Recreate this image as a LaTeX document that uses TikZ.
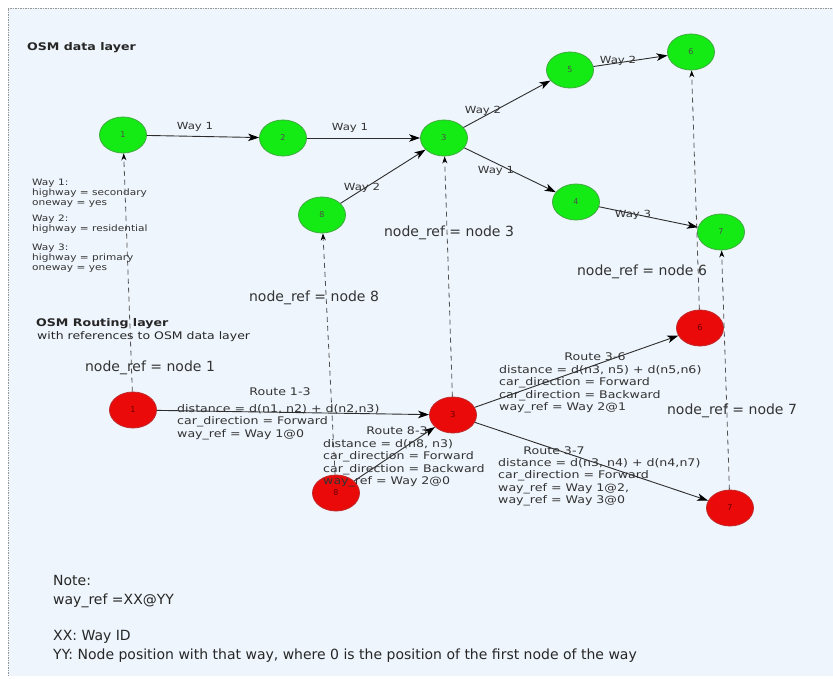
\documentclass[tikz,border=0pt]{standalone}
\usepackage{fontspec}
\setmainfont{DejaVu Sans}
\newfontfamily\wfont[FakeStretch=1.2]{DejaVu Sans}
\newfontfamily\notefont{DejaVu Sans}
\usetikzlibrary{shapes.geometric,arrows.meta}
\definecolor{bg}{RGB}{238,245,252}
\definecolor{gfill}{RGB}{20,235,20}
\definecolor{gdraw}{RGB}{60,170,60}
\definecolor{rfill}{RGB}{235,10,10}
\definecolor{rdraw}{RGB}{190,40,40}
\definecolor{edgec}{RGB}{45,45,45}
\definecolor{refc}{RGB}{80,80,80}
\definecolor{framec}{RGB}{150,150,150}
\tikzset{
  gnode/.style={ellipse, draw=gdraw, fill=gfill, line width=0.8pt, minimum width=47pt, minimum height=36pt, inner sep=0pt, font=\fontsize{8}{9}\selectfont, text=black!70},
  rnode/.style={ellipse, draw=rdraw, fill=rfill, line width=0.8pt, minimum width=47pt, minimum height=36pt, inner sep=0pt, font=\fontsize{8}{9}\selectfont, text=red!40!black},
  wayarrow/.style={draw=edgec, line width=0.9pt, -{Stealth[length=11pt,width=7.5pt,inset=3pt,black]}},
  refarrow/.style={draw=refc, line width=0.8pt, dash pattern=on 5pt off 4pt, -{Stealth[length=7pt,width=5pt,black]}},
  waylbl/.style={inner sep=0pt, font=\wfont\fontsize{9.8}{11}\selectfont, text=black!80},
  reflbl/.style={inner sep=0pt, font=\fontsize{14}{16}\selectfont, text=black!80},
  routetxt/.style={inner sep=0pt, anchor=north west, align=left, font=\wfont\fontsize{10.5}{12.5}\selectfont, text=black!80},
  legtxt/.style={inner sep=0pt, anchor=north west, align=left, font=\wfont\fontsize{8.8}{10.3}\selectfont, text=black!80},
  titletxt/.style={inner sep=0pt, anchor=west, font=\wfont\bfseries\fontsize{10.5}{12}\selectfont, text=black!85},
  notetxt/.style={inner sep=0pt, anchor=north west, align=left, font=\notefont\fontsize{14}{19.5}\selectfont, text=black!85}
}
\begin{document}
\begin{tikzpicture}[x=1pt,y=-1pt]
\useasboundingbox (0,0) rectangle (833,679);
\fill[white] (0,0) rectangle (833,679);
\fill[bg] (8,8) rectangle (833,676);
\draw[framec, line width=0.6pt, dash pattern=on 1.5pt off 1pt] (8,676) -- (8,8) -- (833,8);

% titles and legend
\node[titletxt] (t1) at (27,48) {OSM data layer};
\node[legtxt] (leg1) at (32,178.6) {Way 1:\\highway = secondary\\oneway = yes};
\node[legtxt] (leg2) at (32,214.6) {Way 2:\\highway = residential};
\node[legtxt] (leg3) at (32,243.6) {Way 3:\\highway = primary\\oneway = yes};

% data layer nodes
\node[gnode] (g1) at (123,135) {1};
\node[gnode] (g2) at (283,138) {2};
\node[gnode] (g3) at (444,138) {3};
\node[gnode] (g5) at (570,70) {5};
\node[gnode] (g6) at (691,52) {6};
\node[gnode] (g4) at (576,202) {4};
\node[gnode] (g7) at (721,232) {7};
\node[gnode] (g8) at (322,215) {8};

% routing layer nodes
\node[rnode] (r1) at (133,410) {1};
\node[rnode] (r8) at (336,493) {8};
\node[rnode] (r3) at (453,415) {3};
\node[rnode] (r6) at (700,328) {6};
\node[rnode] (r7) at (730,508) {7};

% reference arrows
\draw[refarrow] (r1) -- (g1);
\draw[refarrow] (r8) -- (g8);
\draw[refarrow] (r3) -- (g3);
\draw[refarrow] (r6) -- (g6);
\draw[refarrow] (r7) -- (g7);

% way arrows
\draw[wayarrow] (g1) -- (g2);
\draw[wayarrow] (g2) -- (g3);
\draw[wayarrow] (g8) -- (g3);
\draw[wayarrow] (g3) -- (g5);
\draw[wayarrow] (g3) -- (g4);
\draw[wayarrow] (g5) -- (g6);
\draw[wayarrow] (g4) -- (g7);

% route arrows
\draw[wayarrow] (r1) -- (r3);
\draw[wayarrow] (r8) -- (r3);
\draw[wayarrow] (r3) -- (r6);
\draw[wayarrow] (r3) -- (r7);

% way labels
\node[waylbl] (w1) at (195,127) {Way 1};
\node[waylbl] (w2) at (350,128) {Way 1};
\node[waylbl] (w3) at (362,188) {Way 2};
\node[waylbl] (w4) at (483,111) {Way 2};
\node[waylbl] (w5) at (496,171) {Way 1};
\node[waylbl] (w6) at (618,61) {Way 2};
\node[waylbl] (w7) at (633,215) {Way 3};

% node_ref labels
\node[reflbl] (n1) at (150,368) {node\_ref = node 1};
\node[reflbl] (n8) at (314,298) {node\_ref = node 8};
\node[reflbl] (n3) at (449,233) {node\_ref = node 3};
\node[reflbl] (n6) at (642,272) {node\_ref = node 6};
\node[reflbl] (n7) at (732,411) {node\_ref = node 7};

% routing layer title
\node[titletxt] (t2) at (36,324) {OSM Routing layer};
\node[titletxt, font=\wfont\fontsize{10.4}{12}\selectfont] (t3) at (37,337) {with references to OSM data layer};

% route texts
\node[waylbl, font=\wfont\fontsize{10.5}{12}\selectfont] (rt13) at (280,392) {Route 1-3};
\node[routetxt] (rb13) at (177,404) {distance = d(n1, n2) + d(n2,n3)\\car\_direction = Forward\\way\_ref = Way 1@0};
\node[waylbl, font=\wfont\fontsize{10.5}{12}\selectfont] (rt83) at (397,431) {Route 8-3};
\node[routetxt] (rb83) at (323,439) {distance = d(n8, n3)\\car\_direction = Forward\\car\_direction = Backward\\way\_ref = Way 2@0};
\node[waylbl, font=\wfont\fontsize{10.5}{12}\selectfont] (rt36) at (595,357) {Route 3-6};
\node[routetxt] (rb36) at (499,365) {distance = d(n3, n5) + d(n5,n6)\\car\_direction = Forward\\car\_direction = Backward\\way\_ref = Way 2@1};
\node[waylbl, font=\wfont\fontsize{10.5}{12}\selectfont] (rt37) at (554,451) {Route 3-7};
\node[routetxt] (rb37) at (498,458) {distance = d(n3, n4) + d(n4,n7)\\car\_direction = Forward\\way\_ref = Way 1@2,\\way\_ref = Way 3@0};

% note
\node[notetxt] (note1) at (53,575) {Note:\\way\_ref =XX@YY};
\node[notetxt] (note2) at (53,630) {XX: Way ID\\YY: Node position with that way, where 0 is the position of the first node of the way};
\end{tikzpicture}
\end{document}
